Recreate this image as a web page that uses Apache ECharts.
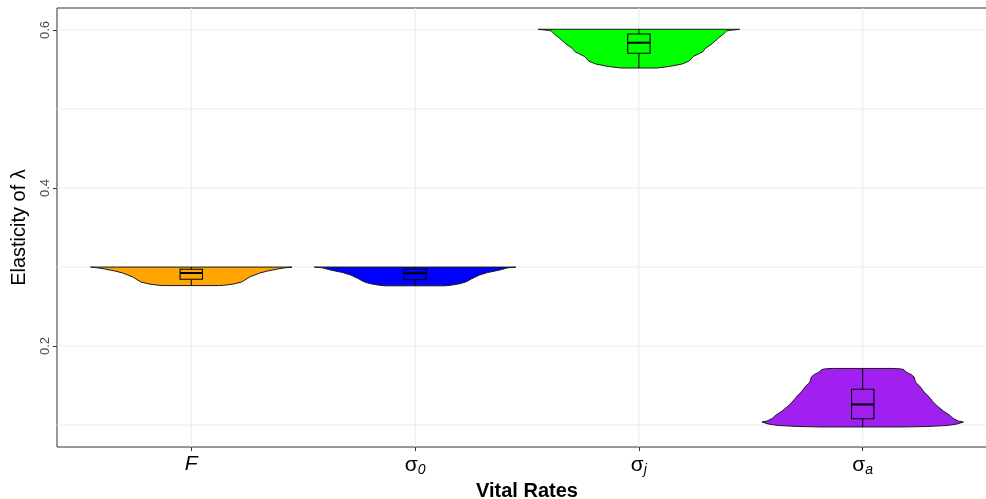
<!DOCTYPE html>
<html><head><meta charset="utf-8">
<script src="https://cdn.jsdelivr.net/npm/echarts@6/dist/echarts.min.js"></script>
<style>html,body{margin:0;padding:0;background:#fff}#c{width:986px;height:499px}</style>
</head><body><div id="c"></div>
<script>
// ---- data ----
const categories = ['F', 'σ0', 'σj', 'σa'];
const categoryLabels = ['{it|F}', '{s|σ}{sub|0}', '{s|σ}{sub|j}', '{s|σ}{sub|a}'];
const colors = ['#FFA500', '#0000FF', '#00FF00', '#A020F0'];
// violin profiles: [value, relative half-width (1 = max)]
const violinF = [[0.2999,1.00],[0.2990,0.93],[0.2975,0.86],[0.2950,0.76],[0.2924,0.68],[0.2873,0.58],[0.2810,0.50],[0.2785,0.42],[0.2768,0.32],[0.2765,0.28]];
const violinS0 = [[0.2999,1.00],[0.2990,0.92],[0.2962,0.84],[0.2930,0.72],[0.2899,0.64],[0.2850,0.56],[0.2814,0.51],[0.2790,0.45],[0.2772,0.37],[0.2762,0.30]];
const violinSj = [[0.6009,1.00],[0.5995,0.90],[0.5987,0.87],[0.5949,0.84],[0.5899,0.79],[0.5829,0.73],[0.5766,0.66],[0.5720,0.63],[0.5703,0.60],[0.5665,0.54],[0.5608,0.50],[0.5570,0.43],[0.5538,0.30],[0.5519,0.18]];
const violinSa = [[0.1716,0.30],[0.1710,0.38],[0.1700,0.41],[0.1671,0.43],[0.1640,0.48],[0.1608,0.51],[0.1560,0.52],[0.1532,0.53],[0.1500,0.56],[0.1468,0.58],[0.1418,0.61],[0.1367,0.65],[0.1291,0.70],[0.1240,0.74],[0.1177,0.80],[0.1127,0.86],[0.1082,0.90],[0.1050,0.95],[0.1038,1.00],[0.1013,0.94],[0.0994,0.84],[0.0981,0.64],[0.0975,0.40]];
// box stats: [lower whisker, Q1, median, Q3, upper whisker]
const boxF = [0.2768, 0.2844, 0.2924, 0.2971, 0.2997];
const boxS0 = [0.2762, 0.2842, 0.2920, 0.2971, 0.2999];
const boxSj = [0.5519, 0.5705, 0.5839, 0.5949, 0.6009];
const boxSa = [0.0975, 0.1079, 0.1260, 0.1452, 0.1716];
const yGridValues = [0.1, 0.2, 0.3, 0.4, 0.5, 0.6];
const yTickValues = [0.2, 0.4, 0.6];
const xTickValues = [1, 2, 3, 4];

const profiles = [violinF, violinS0, violinSj, violinSa];
const boxes = [boxF, boxS0, boxSj, boxSa];

const chart = echarts.init(document.getElementById('c'));
const FONT = 'Liberation Sans, Arial, sans-serif';
const VW = 0.45, BW = 0.05;

chart.setOption({
  animation: false,
  backgroundColor: '#fff',
  grid: { left: 57, top: 8, width: 940, height: 439, outerBoundsMode: 'none', containLabel: false, show: true, borderColor: '#333', borderWidth: 1, backgroundColor: 'transparent' },
  xAxis: {
    type: 'value', min: 0.4, max: 4.6,
    axisLine: { show: false },
    axisTick: { show: true, customValues: xTickValues, length: 4, lineStyle: { color: '#333' } },
    axisLabel: {
      customValues: xTickValues, margin: 7,
      formatter: v => categoryLabels[Math.round(v) - 1] || '',
      rich: {
        it: { fontFamily: FONT, fontSize: 21, fontStyle: 'italic', color: '#000' },
        s: { fontFamily: FONT, fontSize: 21, color: '#000' },
        sub: { fontFamily: FONT, fontSize: 14, fontStyle: 'italic', color: '#000', padding: [9, 0, 0, 0] }
      }
    },
    splitLine: { show: false },
    name: 'Vital Rates', nameLocation: 'middle', nameGap: 28,
    nameTextStyle: { fontFamily: FONT, fontSize: 20, fontWeight: 'bold', color: '#000' }
  },
  yAxis: {
    type: 'value', min: 0.07215, max: 0.62785,
    axisLine: { show: false },
    axisTick: { show: true, customValues: yTickValues, length: 4, lineStyle: { color: '#333' } },
    axisLabel: { customValues: yTickValues, rotate: 90, margin: 5, fontFamily: FONT, fontSize: 13, color: '#4D4D4D', formatter: v => v.toFixed(1) },
    splitLine: { show: false },
    name: 'Elasticity of λ', nameLocation: 'middle', nameGap: 28,
    nameTextStyle: { fontFamily: FONT, fontSize: 20, color: '#000' }
  },
  series: [
    {
      type: 'custom', z: 1, silent: true,
      data: yGridValues.map(v => [1, v]),
      renderItem: (params, api) => {
        const v = yGridValues[params.dataIndex];
        const a = api.coord([0.4, v]), b = api.coord([4.6, v]);
        const children = [{ type: 'line', shape: { x1: a[0], y1: a[1], x2: b[0], y2: b[1] }, style: { stroke: '#EBEBEB', lineWidth: 1 } }];
        if (params.dataIndex < xTickValues.length) {
          const xv = xTickValues[params.dataIndex];
          const c = api.coord([xv, 0.07215]), d = api.coord([xv, 0.62785]);
          children.push({ type: 'line', shape: { x1: c[0], y1: c[1], x2: d[0], y2: d[1] }, style: { stroke: '#EBEBEB', lineWidth: 1 } });
        }
        return { type: 'group', children };
      }
    },
    {
      type: 'custom', z: 2, silent: true,
      data: categories.map((c, i) => [i + 1, boxes[i][2]]),
      renderItem: (params, api) => {
        const i = params.dataIndex, x = i + 1;
        const prof = profiles[i], q = boxes[i];
        const left = prof.map(p => api.coord([x - VW * p[1], p[0]]));
        const right = prof.slice().reverse().map(p => api.coord([x + VW * p[1], p[0]]));
        const tl = api.coord([x - BW, q[3]]), br = api.coord([x + BW, q[1]]);
        const top = api.coord([x, q[4]]), q3 = api.coord([x, q[3]]), q1 = api.coord([x, q[1]]), bot = api.coord([x, q[0]]);
        const ml = api.coord([x - BW, q[2]]), mr = api.coord([x + BW, q[2]]);
        const lineStyle = { stroke: '#000', lineWidth: 1 };
        return {
          type: 'group',
          children: [
            { type: 'polygon', shape: { points: left.concat(right) }, style: { fill: colors[i], stroke: '#1a1a1a', lineWidth: 1 } },
            { type: 'line', shape: { x1: top[0], y1: top[1], x2: q3[0], y2: q3[1] }, style: lineStyle },
            { type: 'line', shape: { x1: q1[0], y1: q1[1], x2: bot[0], y2: bot[1] }, style: lineStyle },
            { type: 'rect', shape: { x: tl[0], y: tl[1], width: br[0] - tl[0], height: br[1] - tl[1] }, style: { fill: 'none', stroke: '#000', lineWidth: 1.1 } },
            { type: 'line', shape: { x1: ml[0], y1: ml[1], x2: mr[0], y2: mr[1] }, style: { stroke: '#000', lineWidth: 2 } }
          ]
        };
      }
    }
  ]
});
</script>
</body></html>
